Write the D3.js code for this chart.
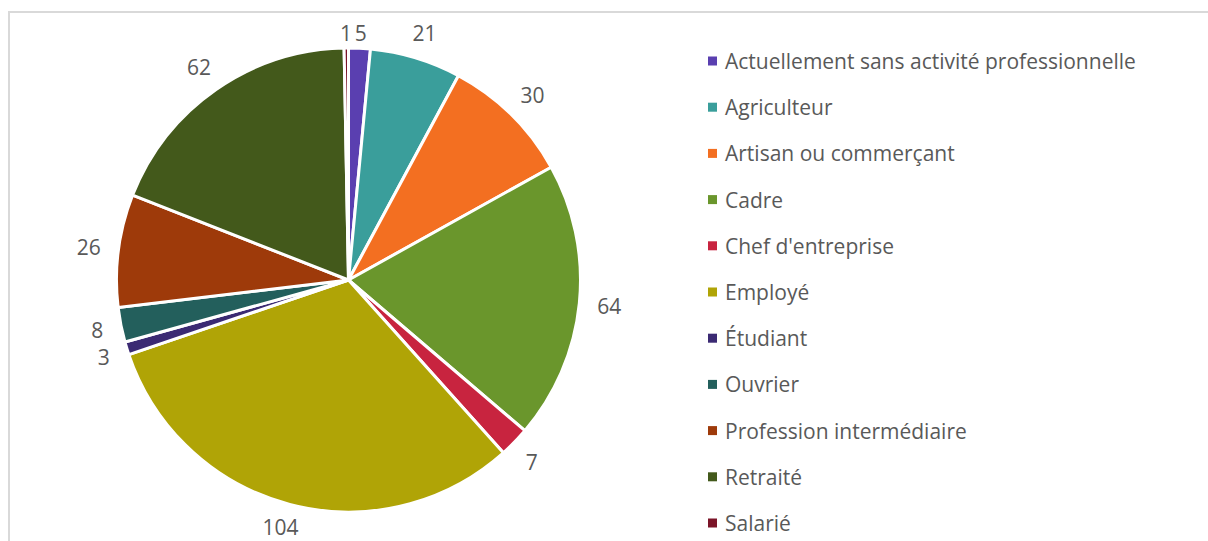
<html>
<head>
<script src="https://cdn.jsdelivr.net/npm/d3@7"></script>
<style>
  body { margin: 0; background: #fff; }
  text { font-family: "Open Sans", "Noto Sans", sans-serif; fill: #595959; }
</style>
</head>
<body>
<script>
// categories, values and colours
const categories = ["Actuellement sans activité professionnelle", "Agriculteur", "Artisan ou commerçant",
  "Cadre", "Chef d'entreprise", "Employé", "Étudiant", "Ouvrier", "Profession intermédiaire",
  "Retraité", "Salarié"];
const values = [5, 21, 30, 64, 7, 104, 3, 8, 26, 62, 1];
const colors = ["#5a3fb0", "#3a9e9b", "#f36f21", "#6a962c", "#c8243f", "#b0a406",
  "#3b2a73", "#235f5c", "#9e3a0a", "#43591b", "#7b1428"];

const width = 1208, height = 541;
const cx = 348.5, cy = 280, r = 232;

const svg = d3.select("body").append("svg")
  .attr("width", width).attr("height", height);

// chart frame
svg.append("rect")
  .attr("x", 9).attr("y", 12).attr("width", width + 10).attr("height", height + 10)
  .attr("fill", "none").attr("stroke", "#d9d9d9").attr("stroke-width", 2);

const data = categories.map((c, i) => ({name: c, value: values[i], color: colors[i]}));

const pie = d3.pie().value(d => d.value).sort(null);
const arc = d3.arc().innerRadius(0).outerRadius(r);
const arcs = pie(data);

const g = svg.append("g").attr("transform", `translate(${cx},${cy})`);
g.selectAll("path")
  .data(arcs)
  .join("path")
    .attr("d", arc)
    .attr("fill", d => d.data.color)
    .attr("stroke", "#fff")
    .attr("stroke-width", 3)
    .attr("stroke-linejoin", "round");

// value labels just outside the pie, kept inside the chart area
const labelR = r + 18;
g.selectAll("text.lbl")
  .data(arcs)
  .join("text")
    .attr("class", "lbl")
    .attr("font-size", 21)
    .attr("text-anchor", "middle")
    .attr("dominant-baseline", "central")
    .text(d => d.data.value)
    .each(function(d) {
      const a = (d.startAngle + d.endAngle) / 2;
      const w = this.getComputedTextLength();
      let x = Math.sin(a) * (labelR + w / 2);
      let y = -Math.cos(a) * (labelR + 10);
      y = Math.min(Math.max(y, 33 - cy), 527 - cy);
      d3.select(this).attr("x", x).attr("y", y);
    });

// legend
const legendY = d3.scalePoint().domain(categories).range([61, 523]);
const legend = svg.append("g");
const items = legend.selectAll("g")
  .data(data)
  .join("g")
    .attr("transform", d => `translate(708,${legendY(d.name)})`);
items.append("rect")
  .attr("x", 0).attr("y", -4.5).attr("width", 9).attr("height", 9)
  .attr("fill", d => d.color);
const lt = items.append("text")
  .attr("x", 17).attr("dominant-baseline", "central")
  .attr("font-size", 19)
  .text(d => d.name);

// fit legend font so the longest entry is as wide as in the picture
const widest = d3.max(lt.nodes(), n => n.getComputedTextLength());
lt.attr("font-size", 19 * 411 / widest);
</script>
</body>
</html>
